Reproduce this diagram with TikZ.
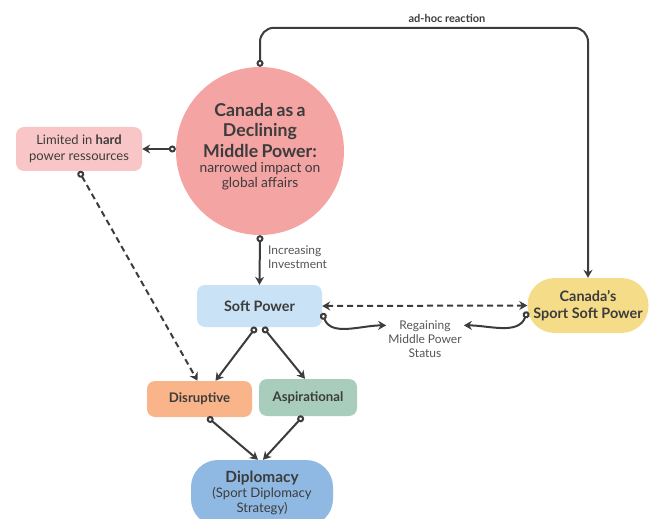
\documentclass[tikz,border=0pt]{standalone}
\usepackage{fontspec}
\setmainfont{Lato}
\usepackage{xcolor}
\usetikzlibrary{arrows.meta,positioning}

\definecolor{ink}{HTML}{3C3C3C}
\definecolor{labelgray}{HTML}{555555}
\definecolor{declinefill}{HTML}{F5A4A4}
\definecolor{hardfill}{HTML}{F8C6C6}
\definecolor{softfill}{HTML}{C9E2F5}
\definecolor{sportfill}{HTML}{F5DC89}
\definecolor{disruptfill}{HTML}{F9B48A}
\definecolor{aspirefill}{HTML}{A8CDBD}
\definecolor{diplofill}{HTML}{8FB9E3}

\begin{document}
\begin{tikzpicture}[x=1pt, y=1pt,
    box/.style={rectangle, rounded corners=8pt, text=ink, align=center, inner sep=0pt},
    pill/.style={box, rounded corners=27pt},
    lbl/.style={text=labelgray, align=center, inner sep=2pt, font=\fontsize{12}{14}\selectfont},
    link/.style={draw=ink, line width=2pt, {Circle[fill=white,length=7pt]}-{Stealth[length=8pt,width=9pt]}},
    dashlink/.style={link, dash pattern=on 6pt off 4pt},
    twoway/.style={draw=ink, line width=2pt, dash pattern=on 6pt off 4pt, {Stealth[length=8pt,width=9pt]}-{Stealth[length=8pt,width=9pt]}}
]
    \useasboundingbox (0,0) rectangle (649,-519);

    \node[circle, fill=declinefill, minimum size=168pt, inner sep=0pt, text=ink, text width=136pt, align=center] (canada) at (260,-151)
        {{\bfseries\fontsize{17.7}{20.5}\selectfont Canada as a\\Declining\\Middle Power:\par}
         {\fontsize{13.8}{15}\selectfont narrowed impact on\\global affairs\par}\vspace{9pt}};
    \node[box, fill=hardfill, minimum width=126pt, minimum height=44pt, font=\fontsize{13}{15.5}\selectfont] (limited) at (79,-149) {Limited in \textbf{hard}\\power ressources};
    \node[box, fill=softfill, minimum width=125pt, minimum height=42pt, font=\bfseries\fontsize{14.4}{17}\selectfont] (softpower) at (259.5,-306) {Soft Power};
    \node[pill, fill=sportfill, minimum width=121pt, minimum height=55pt, font=\bfseries\fontsize{14.4}{17.5}\selectfont] (sport) at (588,-305.5) {Canada’s\\Sport Soft Power};
    \node[box, fill=disruptfill, minimum width=105pt, minimum height=36pt, font=\bfseries\fontsize{13.2}{15}\selectfont] (disruptive) at (199.5,-399) {Disruptive};
    \node[box, fill=aspirefill, minimum width=98pt, minimum height=37pt, font=\bfseries\fontsize{13.2}{15}\selectfont] (aspirational) at (308,-397.5) {Aspirational};
    \node[pill, fill=diplofill, minimum width=142pt, minimum height=66pt, text width=136pt] (diplomacy) at (262,-493)
        {{\bfseries\fontsize{15.4}{18}\selectfont Diplomacy\par}
         {\fontsize{13.1}{15}\selectfont (Sport Diplomacy\\Strategy)\par}};

    \node[lbl, anchor=west, align=left] (invest) at (266,-257) {Increasing\\Investment};
    \node[lbl] (regain) at (425,-339) {Regaining\\Middle Power\\Status};
    \node[lbl, text=ink, font=\bfseries\fontsize{11}{13}\selectfont] (adhoc) at (447,-18) {ad-hoc reaction};

    \draw[link, rounded corners=14pt] (canada.north) -- ++(0,39) -| (sport.north);
    \draw[link] (canada.west |- limited.east) -- (limited.east);
    \draw[dashlink] (limited.south) -- ([xshift=-2pt]disruptive.north);
    \draw[link] (canada.south) -- (softpower.north);
    \draw[link] ([xshift=-3.5pt]softpower.south) -- ([xshift=16pt]disruptive.north);
    \draw[link] ([xshift=3.5pt]softpower.south) -- ([xshift=-3pt]aspirational.north);
    \draw[twoway] (softpower.east) -- (sport.west);
    \draw[link] ([yshift=-7pt]softpower.east) to[out=-70, in=180] ([yshift=-7pt]regain.north west);
    \draw[link] ([yshift=-6pt]sport.west) to[out=-110, in=0] ([yshift=-7pt]regain.north east);
    \draw[link] ([xshift=8pt]disruptive.south) -- ([xshift=-4pt]diplomacy.north);
    \draw[link] ([xshift=-5pt]aspirational.south) -- ([xshift=1pt]diplomacy.north);
\end{tikzpicture}
\end{document}
